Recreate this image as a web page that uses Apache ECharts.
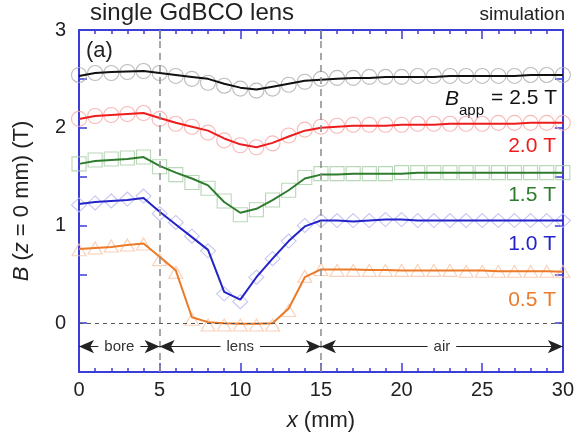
<!DOCTYPE html>
<html>
<head>
<meta charset="utf-8">
<script src="https://cdn.jsdelivr.net/npm/echarts@6/dist/echarts.min.js"></script>
<style>html,body{margin:0;padding:0;background:#fff;}#c{width:577px;height:441px;}</style>
</head>
<body>
<div id="c"></div>
<script>
// x positions (mm)
const xs = [0,1,2,3,4,5,6,7,8,9,10,11,12,13,14,15,16,17,18,19,20,21,22,23,24,25,26,27,28,29,30];

// B_app = 2.5 T
const line25 = [2.53,2.56,2.57,2.575,2.58,2.56,2.54,2.52,2.50,2.45,2.41,2.39,2.42,2.45,2.48,2.49,2.50,2.51,2.51,2.52,2.52,2.52,2.52,2.53,2.53,2.53,2.53,2.53,2.54,2.54,2.54];
const mark25 = [2.54,2.56,2.56,2.57,2.58,2.56,2.53,2.50,2.46,2.43,2.40,2.38,2.40,2.44,2.47,2.50,2.51,2.51,2.52,2.52,2.52,2.53,2.53,2.53,2.53,2.53,2.53,2.53,2.54,2.54,2.54];
// 2.0 T
const line20 = [2.09,2.12,2.13,2.14,2.15,2.10,2.05,2.01,1.97,1.89,1.83,1.80,1.845,1.91,1.97,2.00,2.01,2.02,2.02,2.02,2.03,2.03,2.03,2.04,2.04,2.04,2.04,2.04,2.05,2.05,2.05];
const mark20 = [2.09,2.12,2.13,2.14,2.15,2.09,2.04,2.01,1.95,1.87,1.82,1.80,1.84,1.92,1.98,2.01,2.02,2.03,2.03,2.03,2.03,2.04,2.04,2.04,2.04,2.04,2.05,2.05,2.05,2.05,2.05];
// 1.5 T
const line15 = [1.63,1.66,1.67,1.68,1.70,1.61,1.54,1.48,1.41,1.24,1.13,1.17,1.26,1.36,1.48,1.52,1.52,1.53,1.53,1.53,1.53,1.54,1.54,1.54,1.54,1.54,1.54,1.54,1.54,1.54,1.54];
const mark15 = [1.63,1.67,1.68,1.69,1.70,1.60,1.52,1.44,1.38,1.25,1.11,1.16,1.26,1.36,1.49,1.53,1.53,1.53,1.53,1.53,1.54,1.54,1.54,1.54,1.54,1.54,1.54,1.54,1.54,1.54,1.54];
// 1.0 T
const line10 = [1.22,1.24,1.25,1.26,1.28,1.14,1.01,0.88,0.75,0.32,0.24,0.47,0.66,0.84,0.99,1.05,1.05,1.04,1.05,1.06,1.06,1.05,1.05,1.05,1.05,1.05,1.05,1.05,1.05,1.05,1.05];
const mark10 = [1.21,1.23,1.25,1.27,1.30,1.12,1.03,0.89,0.74,0.30,0.22,0.47,0.66,0.84,1.00,1.05,1.05,1.05,1.05,1.06,1.06,1.05,1.05,1.05,1.05,1.05,1.05,1.05,1.05,1.05,1.05];
// 0.5 T
const line05 = [0.76,0.77,0.78,0.80,0.815,0.68,0.54,0.06,0.01,0.0,-0.005,-0.005,0.0,0.15,0.47,0.55,0.55,0.55,0.545,0.545,0.54,0.54,0.54,0.54,0.54,0.54,0.53,0.53,0.53,0.53,0.525];
const mark05 = [0.75,0.77,0.79,0.80,0.81,0.65,0.52,0.04,-0.02,-0.02,-0.02,-0.02,-0.02,0.13,0.48,0.55,0.54,0.54,0.54,0.54,0.54,0.54,0.54,0.54,0.53,0.53,0.53,0.53,0.53,0.53,0.53];

// region annotations
const regions = [
  {name: 'bore', from: 0, to: 5},
  {name: 'lens', from: 5, to: 15},
  {name: 'air', from: 15, to: 30}
];
const regionY = -0.24;
const boundaries = [5, 15];

const FONT = "'Liberation Sans', Arial, Helvetica, sans-serif";
const AX = '#3c3cd8';

const fields = [
  {line: line25, mark: mark25, lc: '#111111', mc: '#ababab', sym: 'circle', size: 15},
  {line: line20, mark: mark20, lc: '#ee1d1d', mc: '#f5a8a8', sym: 'circle', size: 15},
  {line: line15, mark: mark15, lc: '#2e7d2e', mc: '#a6cda6', sym: 'rect', size: 14},
  {line: line10, mark: mark10, lc: '#2323c8', mc: '#b9b9f0', sym: 'diamond', size: [15, 14]},
  {line: line05, mark: mark05, lc: '#ec7a28', mc: '#f7c3a2', sym: 'triangle', size: [14, 12]}
];

const series = [];
fields.forEach(f => {
  series.push({
    type: 'scatter',
    data: xs.map((x, i) => [x, f.mark[i]]),
    symbol: f.sym,
    symbolSize: f.size,
    itemStyle: {color: 'rgba(0,0,0,0)', borderColor: f.mc, borderWidth: 1.1},
    z: 2, silent: true
  });
  series.push({
    type: 'line',
    data: xs.map((x, i) => [x, f.line[i]]),
    showSymbol: false,
    lineStyle: {color: f.lc, width: 2},
    itemStyle: {color: f.lc},
    z: 4, silent: true
  });
});

// guide lines
series.push({
  type: 'line', data: [], silent: true, z: 3,
  markLine: {
    silent: true, symbol: 'none', animation: false,
    label: {show: false},
    data: boundaries.map(b => ({xAxis: b, lineStyle: {type: [7, 5], color: '#8a8a8a', width: 1.5}}))
      .concat([{yAxis: 0, lineStyle: {type: [4, 4], color: '#555', width: 1}}])
  }
});
// region arrows
series.push({
  type: 'line', data: [], silent: true, z: 5,
  markLine: {
    silent: true, animation: false,
    symbol: ['arrow', 'arrow'],
    symbolSize: [10, 15],
    lineStyle: {type: 'solid', color: '#222', width: 1},
    label: {
      show: true, position: 'middle', distance: 0, verticalAlign: 'middle',
      fontFamily: FONT, fontSize: 15, color: '#333',
      backgroundColor: '#fff', padding: [0, 6],
      formatter: p => p.name
    },
    data: regions.map(r => [
      {name: r.name, coord: [r.from, regionY]},
      {coord: [r.to, regionY]}
    ])
  }
});

const tickCommon = {
  axisLine: {show: true, onZero: false, lineStyle: {color: AX, width: 2}},
  splitLine: {show: false}
};

const option = {
  animation: false,
  backgroundColor: '#fff',
  grid: {left: 79, right: 10, top: 30, bottom: 69},
  xAxis: [
    Object.assign({
      type: 'value', min: 0, max: 30, interval: 5, position: 'bottom',
      axisTick: {show: true, inside: true, length: 9, lineStyle: {color: AX, width: 1.5}},
      minorTick: {show: true, splitNumber: 5, length: 4, lineStyle: {color: AX, width: 1.5}},
      axisLabel: {fontFamily: FONT, fontSize: 20, color: '#222', margin: 8},
      name: '{i|x} (mm)', nameLocation: 'middle', nameGap: 38,
      nameTextStyle: {fontFamily: FONT, fontSize: 22, color: '#222',
        rich: {i: {fontFamily: FONT, fontSize: 22, fontStyle: 'italic', color: '#222'}}}
    }, tickCommon),
    Object.assign({
      type: 'value', min: 0, max: 30, interval: 5, position: 'top',
      axisTick: {show: true, inside: true, length: 9, lineStyle: {color: AX, width: 1.5}},
      minorTick: {show: true, splitNumber: 5, length: 4, lineStyle: {color: AX, width: 1.5}},
      axisLabel: {show: false}
    }, tickCommon)
  ],
  yAxis: [
    Object.assign({
      type: 'value', min: -0.5, max: 3, interval: 0.5, position: 'left',
      axisTick: {show: true, inside: true, length: 8, lineStyle: {color: AX, width: 1.5}},
      axisLabel: {fontFamily: FONT, fontSize: 20, color: '#222', margin: 13,
        formatter: v => (Math.abs(v - Math.round(v)) < 1e-9 && v >= 0) ? String(Math.round(v)) : ''},
      name: '{i|B} ({i|z} = 0 mm) (T)', nameLocation: 'middle', nameGap: 46,
      nameTextStyle: {fontFamily: FONT, fontSize: 22, color: '#222',
        rich: {i: {fontFamily: FONT, fontSize: 22, fontStyle: 'italic', color: '#222'}}}
    }, tickCommon),
    Object.assign({
      type: 'value', min: -0.5, max: 3, interval: 0.5, position: 'right',
      axisTick: {show: true, inside: true, length: 8, lineStyle: {color: AX, width: 1.5}},
      axisLabel: {show: false}
    }, tickCommon)
  ],
  graphic: [
    {type: 'text', left: 90, top: 1, style: {text: 'single GdBCO lens', font: '24px ' + FONT, fill: '#222'}},
    {type: 'text', right: 12, top: 5, style: {text: 'simulation', font: '19px ' + FONT, fill: '#222'}},
    {type: 'text', x: 86, y: 51, style: {text: '(a)', font: '22px ' + FONT, fill: '#222', verticalAlign: 'middle'}},
    {type: 'text', x: 445, y: 99, style: {text: 'B', font: 'italic 21px ' + FONT, fill: '#111', verticalAlign: 'middle'}},
    {type: 'text', x: 459, y: 111, style: {text: 'app', font: '15px ' + FONT, fill: '#111', verticalAlign: 'middle'}},
    {type: 'text', x: 557, y: 98, style: {text: '= 2.5 T', font: '21px ' + FONT, fill: '#111', align: 'right', verticalAlign: 'middle'}},
    {type: 'text', x: 556, y: 146, style: {text: '2.0 T', font: '21px ' + FONT, fill: '#ee1d1d', align: 'right', verticalAlign: 'middle'}},
    {type: 'text', x: 556, y: 195, style: {text: '1.5 T', font: '21px ' + FONT, fill: '#2e7d2e', align: 'right', verticalAlign: 'middle'}},
    {type: 'text', x: 556, y: 244, style: {text: '1.0 T', font: '21px ' + FONT, fill: '#2323c8', align: 'right', verticalAlign: 'middle'}},
    {type: 'text', x: 556, y: 300, style: {text: '0.5 T', font: '21px ' + FONT, fill: '#ec7a28', align: 'right', verticalAlign: 'middle'}}
  ],
  series: series
};

const chart = echarts.init(document.getElementById('c'), null, {renderer: 'canvas'});
chart.setOption(option);
</script>
</body>
</html>
